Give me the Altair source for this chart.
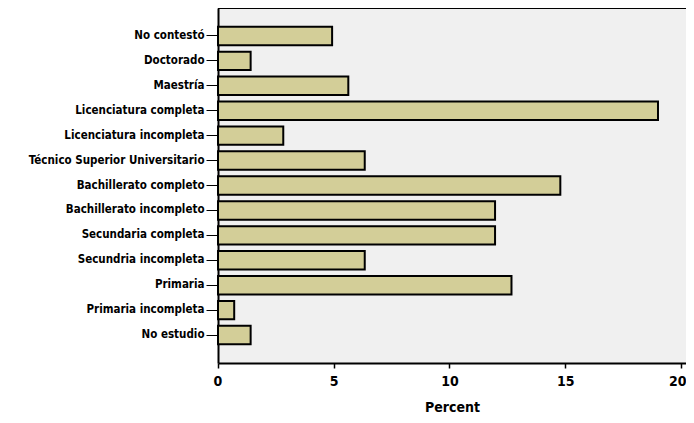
import altair as alt
import pandas as pd

categories = ["No contestó", "Doctorado", "Maestría", "Licenciatura completa",
              "Licenciatura incompleta", "Técnico Superior Universitario",
              "Bachillerato completo", "Bachillerato incompleto", "Secundaria completa",
              "Secundria incompleta", "Primaria", "Primaria incompleta", "No estudio"]
percent = [4.93, 1.41, 5.63, 19.01, 2.82, 6.34, 14.79, 11.97, 11.97, 6.34, 12.68, 0.70, 1.41]

df = pd.DataFrame({"cat": categories, "pct": percent})

font = "DejaVu Sans Condensed"
W, H = 468, 355

bars = alt.Chart(df).mark_bar(
    color="#d3ce98", stroke="black", strokeWidth=2
).encode(
    x=alt.X("pct:Q", title="Percent",
            scale=alt.Scale(domain=[0, 20.22], nice=False),
            axis=alt.Axis(values=[0, 5, 10, 15, 20], grid=False, format="d",
                          domainColor="black", domainWidth=2, tickColor="black",
                          tickSize=5, tickWidth=1.5, labelFont=font, labelFontSize=14,
                          labelFontWeight="bold", labelColor="black", labelPadding=6,
                          labelFlush=10, labelFlushOffset=5,
                          titleFont=font, titleFontSize=14, titleFontWeight="bold",
                          titleColor="black", titlePadding=12)),
    y=alt.Y("cat:N", title=None, sort=categories,
            scale=alt.Scale(paddingInner=0.26, paddingOuter=0.75),
            axis=alt.Axis(domainColor="black", domainWidth=2, tickColor="black",
                          tickSize=12, tickWidth=1, labelFont=font, labelFontSize=11.5,
                          labelFontWeight="bold", labelColor="black", labelPadding=2,
                          labelLimit=400)),
)

topline = alt.Chart(df).mark_rule(color="black", strokeWidth=2).encode(
    x=alt.value(0), x2=alt.value(W), y=alt.value(0)
)

chart = alt.layer(bars, topline).properties(
    width=W, height=H,
    autosize=alt.AutoSizeParams(type="none"),
    padding={"left": 210, "top": 0, "right": 0, "bottom": 52},
).configure_view(
    fill="#f0f0f0", strokeOpacity=0
)

chart.save("out.html", embed_options={"renderer": "svg", "actions": False})
